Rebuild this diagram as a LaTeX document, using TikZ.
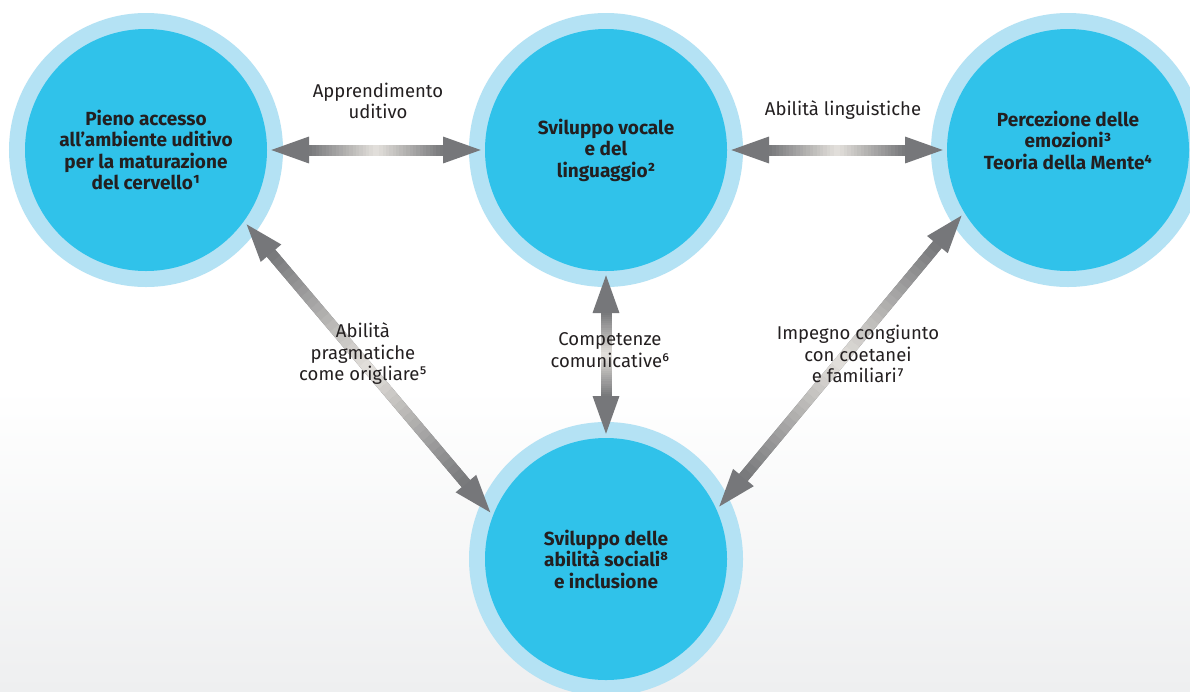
\documentclass[tikz,border=0pt]{standalone}
\usepackage{fontspec}
\setmainfont{Fira Sans}
\usetikzlibrary{arrows.meta,calc}

\definecolor{ringblue}{HTML}{B4E2F4}
\definecolor{coreblue}{HTML}{30C2EA}
\definecolor{inkdark}{HTML}{231F20}
\definecolor{arrowdark}{HTML}{76777A}
\definecolor{arrowlight}{HTML}{E4E1DC}
\definecolor{floorgray}{HTML}{EEEFF0}

\newcommand\shadedlink[2]{%
  \path (#1) edge[link] (#2);
  \coordinate (S) at ($(#1)!42pt!(#2)$);
  \coordinate (T) at ($(#2)!42pt!(#1)$);
  \foreach \k in {0,...,39}{
    \pgfmathsetmacro\shadepct{100-5*abs(\k-19.5)}
    \pgfmathsetmacro\ta{\k/40}
    \pgfmathsetmacro\tb{(\k+1.05)/40}
    \draw[line width=11pt,draw=arrowlight!\shadepct!arrowdark]
      ($(S)!\ta!(T)$) -- ($(S)!\tb!(T)$);
  }%
}

\begin{document}
\begin{tikzpicture}[x=1pt,y=-1pt,
    bubble/.style={circle,fill=coreblue,minimum size=242pt,inner sep=0pt,outer sep=0pt,
      preaction={draw=ringblue,line width=32pt},text=inkdark,align=center,
      font=\bfseries\fontsize{19}{21.5}\selectfont},
    note/.style={text=inkdark,align=center,font=\fontsize{18.5}{21.5}\selectfont},
    link/.style={line width=11pt,draw=arrowdark,
      {Triangle[length=42pt,width=23pt]}-{Triangle[length=42pt,width=23pt]}}]
  \clip (0,0) rectangle (1190,691);
  \fill[white] (0,0) rectangle (1190,691);
  \shade[top color=white,bottom color=floorgray] (0,388) rectangle (1190,691);

  \node[bubble] (A) at (146,150) {Pieno accesso\\all’ambiente uditivo\\per la maturazione\\del cervello¹};
  \node[bubble] (B) at (606,150) {Sviluppo vocale\\e del\\linguaggio²};
  \node[bubble] (C) at (1068,150) {Percezione delle\\emozioni³\\Teoria della Mente⁴\\[-2pt]\mbox{}};
  \node[bubble] (D) at (606,559) {Sviluppo delle\\abilità sociali⁸\\e inclusione};

  \shadedlink{A.east}{B.west}
  \shadedlink{B.east}{C.west}
  \shadedlink{B.south}{D.north}
  \shadedlink{A.-36}{D.159}
  \shadedlink{C.211}{D.24}

  \node[note] (AB) at (378,101) {Apprendimento\\uditivo};
  \node[note] (BC) at (843,110) {Abilità linguistiche};
  \node[note] (AD) at (363,354) {Abilità\\pragmatiche\\come origliare⁵};
  \node[note] (BD) at (610,350) {Competenze\\comunicative⁶};
  \node[note] (CD) at (858,354) {Impegno congiunto\\con coetanei\\e familiari⁷};
\end{tikzpicture}
\end{document}
